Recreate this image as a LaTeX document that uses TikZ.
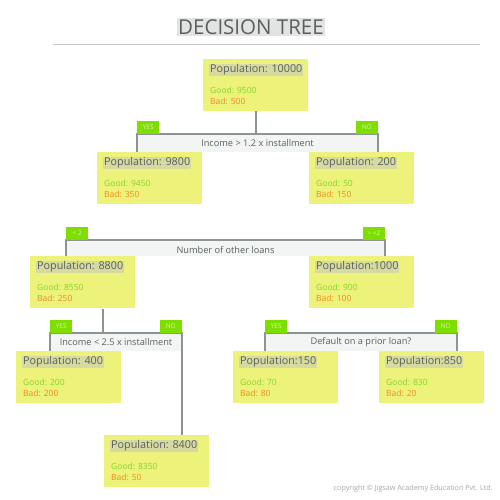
\documentclass[tikz,border=0pt]{standalone}
\usepackage{fontspec}
\setmainfont{Open Sans}
\usepackage{tikz}
\usetikzlibrary{positioning, calc}
\usepackage{xcolor}

\definecolor{boxyellow}{RGB}{236,242,122}
\definecolor{popgray}{RGB}{214,218,160}
\definecolor{goodgreen}{RGB}{132,214,40}
\definecolor{badorange}{RGB}{240,140,30}
\definecolor{yesgreen}{RGB}{126,222,0}
\definecolor{linegray}{RGB}{140,148,148}
\definecolor{textgray}{RGB}{88,96,96}
\definecolor{condgray}{RGB}{243,245,245}

% one population box: name, left, top, population text, good, bad
\newcommand{\popnode}[6]{%
  \node[popbox, anchor=north west] (#1) at (#2,#3) {};
  \node[poplabel, anchor=west] (#1-pop)  at ([xshift=6pt,yshift=-11pt]#1.north west) {#4};
  \node[goodlabel, anchor=west] (#1-good) at ([xshift=6pt,yshift=-31pt]#1.north west) {Good: #5};
  \node[badlabel, anchor=west] (#1-bad)  at ([xshift=6pt,yshift=-42pt]#1.north west) {Bad: #6};
}

\begin{document}
\begin{tikzpicture}[x=1pt,y=-1pt]
  \tikzstyle{popbox}=[fill=boxyellow, minimum width=105pt, minimum height=52pt, inner sep=0pt]
  \tikzstyle{poplabel}=[fill=popgray, text=textgray, font=\fontsize{10.8}{11}\selectfont, inner sep=1pt]
  \tikzstyle{goodlabel}=[text=goodgreen, font=\fontsize{8.5}{9}\selectfont, inner sep=1pt]
  \tikzstyle{badlabel}=[text=badorange, font=\fontsize{8.5}{9}\selectfont, inner sep=1pt]
  \tikzstyle{link}=[draw=linegray, line width=1.6pt]
  \tikzstyle{answer}=[fill=yesgreen, text=white!70!yesgreen, font=\fontsize{6.5}{7}\selectfont,
    minimum width=22pt, minimum height=13pt, inner sep=0pt]
  \tikzstyle{question}=[text=textgray, font=\fontsize{9.2}{10}\selectfont, inner sep=1pt]

  \useasboundingbox (0,0) rectangle (500,500);

  % title
  \node[fill=gray!22, text=textgray, font=\fontsize{20.5}{22}\selectfont, inner sep=1.5pt] (title) at (251,27) {DECISION TREE};
  \draw[gray!45, line width=0.6pt] (53,44) -- (480,44);

  % corners of the four splits
  \coordinate (yes1) at (137,134);
  \coordinate (no1)  at (378,134);
  \coordinate (yes2) at (66,240);
  \coordinate (no2)  at (385,240);
  \coordinate (yes3) at (50,333);
  \coordinate (no3)  at (182,333);
  \coordinate (yes4) at (265,333);
  \coordinate (no4)  at (457,333);

  % shaded insides of the splits
  \fill[condgray] (yes1) rectangle (378,152);
  \fill[condgray] (yes2) rectangle (385,256);
  \fill[condgray] (yes3) rectangle (182,351);
  \fill[condgray] (yes4) rectangle (457,351);

  \popnode{n10000}{203}{59}{Population: 10000}{9500}{500}
  \popnode{n9800}{97}{152}{Population: 9800}{9450}{350}
  \popnode{n200}{309}{152}{Population: 200}{50}{150}
  \popnode{n8800}{30}{256}{Population: 8800}{8550}{250}
  \popnode{n1000}{309}{256}{Population:1000}{900}{100}
  \popnode{n400}{16}{351}{Population: 400}{200}{200}
  \popnode{n8400}{104}{435}{Population: 8400}{8350}{50}
  \popnode{n150}{233}{351}{Population:150}{70}{80}
  \popnode{n850}{379}{351}{Population:850}{830}{20}

  % split 1
  \draw[link] (n10000.south) -- (n10000.south |- yes1);
  \draw[link] (yes1 |- n9800.north) -- (yes1) -- (no1) -- (no1 |- n200.north);
  \node[answer, anchor=south west] (yes1-lab) at (yes1) {YES};
  \node[answer, anchor=south east] (no1-lab) at (no1) {NO};
  \node[question] (q1) at ($(yes1)!0.5!(no1) + (0,9)$) {Income > 1.2 x installment};

  % split 2
  \draw[link] (yes2 |- n8800.north) -- (yes2) -- (no2) -- (no2 |- n1000.north);
  \node[answer, anchor=south west] (yes2-lab) at (yes2) {< 2};
  \node[answer, anchor=south east] (no2-lab) at (no2) {> =2};
  \node[question] (q2) at ($(yes2)!0.5!(no2) + (0,10)$) {Number of other loans};

  % split 3
  \draw[link] (103,309) -- (103,333);
  \draw[link] (yes3 |- n400.north) -- (yes3) -- (no3) -- (no3 |- n8400.north);
  \node[answer, anchor=south west] (yes3-lab) at (yes3) {YES};
  \node[answer, anchor=south east] (no3-lab) at (no3) {NO};
  \node[question] (q3) at ($(yes3)!0.5!(no3) + (0,9)$) {Income < 2.5 x installment};

  % split 4
  \draw[link] (yes4 |- n150.north) -- (yes4) -- (no4) -- (no4 |- n850.north);
  \node[answer, anchor=south west] (yes4-lab) at (yes4) {YES};
  \node[answer, anchor=south east] (no4-lab) at (no4) {NO};
  \node[question] (q4) at ($(yes4)!0.5!(no4) + (0,9)$) {Default on a prior loan?};

  \node[text=gray!70, font=\fontsize{7.2}{8}\selectfont, anchor=east, inner sep=0pt] (copy) at (493,489)
    {copyright \textcopyright\ Jigsaw Academy Education Pvt. Ltd.};
\end{tikzpicture}
\end{document}
